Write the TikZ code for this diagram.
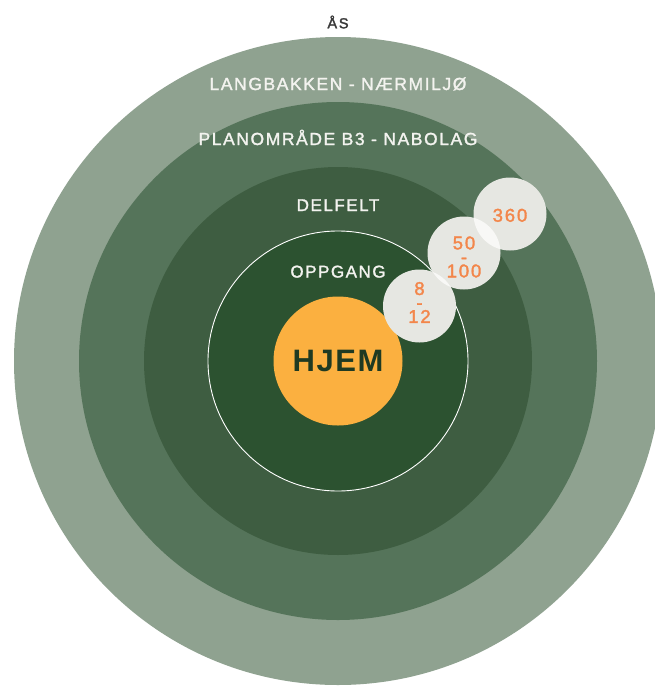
\documentclass[tikz,border=0pt]{standalone}
\usepackage{fontspec}
\setmainfont{Liberation Sans}
\newfontfamily\labfont[LetterSpace=9,FakeBold=1.6]{Liberation Sans}
\newfontfamily\numfont[LetterSpace=10,FakeBold=1.8]{Liberation Sans}
\newfontfamily\hjemfont[LetterSpace=5,BoldFont={Liberation Sans Bold}]{Liberation Sans Bold}
\newfontfamily\asfont[LetterSpace=12,FakeBold=2]{Liberation Sans}
\definecolor{ringA}{HTML}{8FA290}
\definecolor{ringB}{HTML}{55745A}
\definecolor{ringC}{HTML}{3E5D41}
\definecolor{ringD}{HTML}{2C5230}
\definecolor{hjemfill}{HTML}{FBB040}
\definecolor{hjemtext}{HTML}{1F3A22}
\definecolor{numtext}{HTML}{F3864A}
\definecolor{bubble}{HTML}{E6E7E2}
\definecolor{bubblelap}{HTML}{F8F8F6}
\definecolor{labtext}{HTML}{F3F3EF}
\definecolor{astext}{HTML}{3A3A3A}
\begin{document}
\begin{tikzpicture}[x=1pt,y=-1pt,
  ring/.style={circle,inner sep=0pt,draw=none},
  bubblenode/.style={circle,inner sep=0pt,minimum size=73pt,fill=bubble},
  lab/.style={font=\labfont\fontsize{17.5}{20}\selectfont,text=labtext,anchor=base,inner sep=0pt},
  num/.style={font=\numfont\fontsize{18.5}{14}\selectfont,text=numtext,align=center,inner sep=0pt}]
\useasboundingbox (0,0) rectangle (655,686);
\fill[white] (0,0) rectangle (655,686);
\node[ring,fill=ringA,minimum size=648pt] (as) at (338,361) {};
\node[ring,fill=ringB,minimum size=518pt] (nabolag) at (338,361) {};
\node[ring,fill=ringC,minimum size=388pt] (delfelt) at (338,361) {};
\node[ring,fill=ringD,draw=white,line width=0.9pt,minimum size=260pt] (oppgang) at (338,361) {};
\node[ring,fill=hjemfill,minimum size=129pt] (hjem) at (338,361) {};
\node[anchor=base,inner sep=0pt,text=hjemtext,font=\hjemfont\fontsize{31}{34}\selectfont] (hjemlab) at (338,371.7) {HJEM};
% labels
\node[anchor=base,inner sep=0pt,text=astext,font=\asfont\fontsize{14.5}{16}\selectfont] (aslab) at (338,28.3) {ÅS};
\node[lab] (langlab) at (338,90) {LANGBAKKEN - NÆRMILJØ};
\node[lab] (planlab) at (338,145) {PLANOMRÅDE B3 - NABOLAG};
\node[lab,font=\labfont\fontsize{17}{20}\selectfont] (dellab) at (338,211) {DELFELT};
\node[lab,font=\labfont\fontsize{17}{20}\selectfont] (opplab) at (338,277.5) {OPPGANG};
% bubbles
\node[bubblenode] (b812) at (419.5,306) {};
\node[bubblenode] (b50) at (464,253) {};
\node[bubblenode] (b360) at (510,214) {};
\begin{scope}
  \clip (b812.center) circle (36.5pt);
  \fill[bubblelap] (b50.center) circle (36.5pt);
\end{scope}
\begin{scope}
  \clip (b50.center) circle (36.5pt);
  \fill[bubblelap] (b360.center) circle (36.5pt);
\end{scope}
\node[num,anchor=base] (t360) at (510,221.7) {360};
\node[num] (t50) at (464,257) {50\\-\\100};
\node[num] (t812) at (419.5,302.5) {8\\-\\12};
\end{tikzpicture}
\end{document}
